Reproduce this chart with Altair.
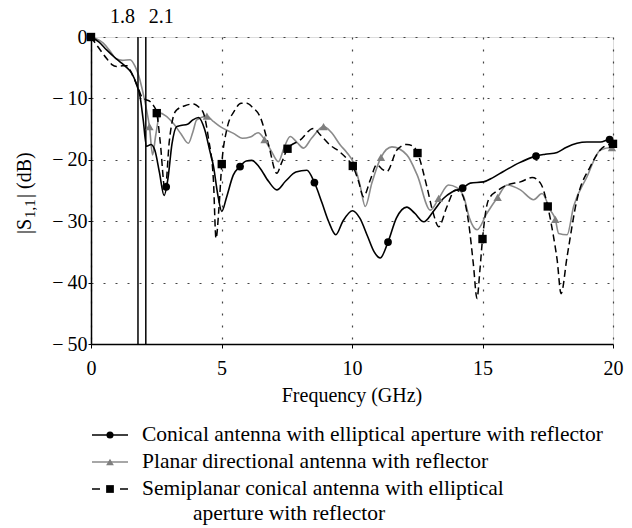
import altair as alt
import pandas as pd

# ---- data ----
conical_f = [0, 0.3, 0.6, 0.9, 1.1, 1.35, 1.56, 1.75, 1.88, 2.0, 2.13, 2.3, 2.45, 2.62, 2.8, 2.95, 3.1, 3.28,
             3.44, 3.7, 3.9, 4.12, 4.35, 4.55, 4.69, 4.85, 5.01, 5.2, 5.45, 5.71, 5.95, 6.16, 6.45, 6.8, 7.12,
             7.45, 7.85, 8.27, 8.56, 8.85, 9.1, 9.38, 9.65, 10.02, 10.3, 10.6, 10.85, 11.08, 11.38, 11.7, 12.1,
             12.4, 12.75, 13.1, 13.5, 13.85, 14.24, 14.53, 15.04, 15.4, 15.8, 16.4, 17.05, 17.4, 17.86, 18.2,
             18.62, 19.0, 19.52, 19.87, 20.0]
conical_db = [0, -0.8, -2.1, -3.3, -4.0, -4.9, -5.9, -7.8, -9.7, -13.5, -17.8, -17.5, -18.5, -22, -25.8, -23,
              -17.5, -14.6, -14.4, -14.2, -13.5, -13.1, -15, -18.5, -21, -25.5, -28.4, -26, -22.5, -21.1, -20.2,
              -20.1, -21.2, -23.5, -24.9, -23.5, -22, -21.7, -23.7, -27, -30, -32.2, -30, -28.3, -29.5, -32.5,
              -35, -36.0, -33.4, -29.5, -27.7, -28.7, -30.1, -28.5, -26.3, -25.2, -24.6, -23.8, -23.6, -22.9,
              -21.9, -20.5, -19.4, -19.1, -18.8, -18.0, -17.3, -17.1, -17.1, -16.7, -17.0]

planar_f = [0, 0.2, 0.47, 0.75, 0.98, 1.2, 1.5, 1.69, 1.82, 1.94, 2.04, 2.13, 2.24, 2.36, 2.48, 2.65, 2.85,
            3.16, 3.45, 3.73, 3.9, 4.05, 4.44, 4.7, 4.95, 5.46, 5.8, 6.1, 6.4, 6.65, 6.9, 7.18, 7.4, 7.63, 7.9,
            8.14, 8.45, 8.91, 9.2, 9.55, 9.8, 10.06, 10.3, 10.51, 10.76, 11.11, 11.53, 12.1, 12.5, 13.0, 13.32,
            13.7, 14.0, 14.28, 14.5, 14.79, 15.17, 15.58, 15.94, 16.45, 16.96, 17.28, 17.6, 17.79, 17.92, 18.24,
            18.49, 19.0, 19.52, 19.96, 20.0]
planar_db = [0, -0.3, -1.0, -2.4, -3.6, -3.8, -3.7, -4.8, -6.2, -8.1, -10, -11.9, -14.6, -19.2, -16, -12.4,
             -12.8, -14.1, -15.8, -17.3, -15.5, -13.5, -12.9, -13.8, -14.6, -15.7, -16.5, -16.3, -15.6, -16.7,
             -18.5, -20.3, -18, -16.2, -17.2, -18.1, -16.5, -14.6, -15.5, -17.6, -18.8, -20.5, -24, -27.6, -23.8,
             -19.6, -17.9, -19.2, -22.5, -28.2, -26.3, -24.1, -24.5, -26.0, -29.5, -31.4, -28.7, -26.1, -24.1,
             -24.9, -26.5, -25.5, -28.2, -29.7, -32.0, -32.2, -27.6, -22.8, -18.4, -18.0, -18.0]

semi_f = [0, 0.3, 0.6, 0.8, 0.98, 1.2, 1.37, 1.62, 1.8, 1.94, 2.1, 2.26, 2.4, 2.52, 2.65, 2.84, 3.0, 3.15,
          3.28, 3.6, 3.92, 4.15, 4.31, 4.5, 4.69, 4.79, 4.9, 5.01, 5.2, 5.5, 5.75, 5.97, 6.2, 6.48, 6.8, 7.12,
          7.3, 7.53, 8.01, 8.52, 8.8, 9.16, 9.5, 9.8, 10.03, 10.25, 10.44, 10.7, 10.95, 11.15, 11.34, 11.72,
          12.1, 12.35, 12.51, 12.87, 13.1, 13.32, 13.64, 13.96, 14.2, 14.47, 14.65, 14.79, 14.9, 15.0, 15.23,
          15.62, 15.94, 16.45, 16.9, 17.22, 17.5, 17.7, 17.86, 18.01, 18.24, 18.62, 19.13, 19.64, 20.0]
semi_db = [0, -1.8, -3.5, -4.5, -4.8, -4.7, -4.7, -6.5, -8.2, -9.7, -10.2, -10.5, -11.2, -12.4, -17, -25.0,
           -17, -13, -11.9, -11.2, -10.9, -11.5, -12.4, -16.5, -23.3, -32.8, -28, -20.7, -15.1, -12, -10.8,
           -10.8, -11.5, -13.0, -17.5, -22.2, -20.5, -18.2, -16.8, -14.9, -16, -17.6, -18.6, -19.8, -21.0,
           -23.5, -26.0, -23.3, -20.8, -21.5, -21.9, -18.4, -17.5, -17.8, -18.9, -24.4, -28.5, -30.9, -27.6,
           -24.9, -25.5, -30.3, -37, -42.6, -38, -32.9, -26.5, -24.9, -24.1, -23.6, -22.9, -23.8, -27.6, -32,
           -36.3, -41.8, -35.8, -26.5, -21.1, -17.9, -17.4]

conical_mk_f = [0, 2.88, 5.71, 8.56, 11.38, 14.24, 17.05, 19.87]
conical_mk_db = [0, -24.4, -21.1, -23.7, -33.4, -24.6, -19.4, -16.7]
planar_mk_f = [0, 2.24, 4.44, 6.65, 8.91, 11.11, 13.32, 15.58, 17.79, 19.96]
planar_mk_db = [0, -14.6, -12.9, -16.7, -14.6, -19.6, -26.3, -26.1, -29.7, -18.0]
semi_mk_f = [0, 2.52, 5.01, 7.53, 10.03, 12.51, 15.0, 17.5, 20.0]
semi_mk_db = [0, -12.4, -20.7, -18.2, -21.0, -18.9, -32.9, -27.6, -17.4]

band_f = [1.8, 2.1]
band_labels = ["1.8", "2.1"]
x_ticks = [0, 5, 10, 15, 20]
y_ticks = [-50, -40, -30, -20, -10, 0]

series_names = ["Conical antenna with elliptical aperture with reflector",
                "Planar directional antenna with reflector",
                "Semiplanar conical antenna with elliptical",
                "aperture with reflector"]
x_title = "Frequency (GHz)"

FONT = "Liberation Serif, Times New Roman, serif"
W, H = 522, 307
GRAY = "#8a8a8a"

xs = alt.Scale(domain=[0, 20], nice=False)
ys = alt.Scale(domain=[-50, 0], nice=False)
xaxis = alt.Axis(values=x_ticks, title=None, grid=True, gridDash=[2, 10], gridColor="#444",
                 gridWidth=1.2, tickSize=4, labelPadding=10, labelFont=FONT, labelFontSize=20,
                 labelColor="black", domainColor="black", domainWidth=1.5, tickColor="black",
                 labelFlush=False)
yaxis = alt.Axis(values=y_ticks, title=None, grid=True, gridDash=[2, 10], gridColor="#444",
                 gridWidth=1.2, tickSize=3, labelPadding=1, labelFont=FONT, labelFontSize=20,
                 labelColor="black", domainColor="black", domainWidth=1.5, tickColor="black",
                 labelFlush=False,
                 labelExpr="datum.value < 0 ? '\u2212\u2009' + format(-datum.value, 'd') : datum.label")


def enc_xy():
    return dict(x=alt.X("f:Q", scale=xs, axis=xaxis), y=alt.Y("db:Q", scale=ys, axis=yaxis))


df_con = pd.DataFrame({"f": conical_f, "db": conical_db})
df_pla = pd.DataFrame({"f": planar_f, "db": planar_db})
df_sem = pd.DataFrame({"f": semi_f, "db": semi_db})
mk_con = pd.DataFrame({"f": conical_mk_f, "db": conical_mk_db})
mk_pla = pd.DataFrame({"f": planar_mk_f, "db": planar_mk_db})
mk_sem = pd.DataFrame({"f": semi_mk_f, "db": semi_mk_db})
df_band = pd.DataFrame({"f": band_f, "label": band_labels})
one = pd.DataFrame({"k": [0]})

line_pla = alt.Chart(df_pla).mark_line(color=GRAY, strokeWidth=1.6, interpolate="monotone").encode(**enc_xy())
line_sem = alt.Chart(df_sem).mark_line(color="black", strokeWidth=1.5, strokeDash=[7, 4],
                                       interpolate="monotone").encode(**enc_xy())
line_con = alt.Chart(df_con).mark_line(color="black", strokeWidth=1.6, interpolate="monotone").encode(**enc_xy())

band_rules = alt.Chart(df_band).mark_rule(color="black", strokeWidth=1.5).encode(
    x=alt.X("f:Q", scale=xs, axis=xaxis), y=alt.value(0), y2=alt.value(H))
band_txt_l = alt.Chart(df_band.iloc[[0]]).mark_text(font=FONT, fontSize=20, align="right", baseline="middle",
                                                     dx=-3, color="black").encode(
    x=alt.X("f:Q", scale=xs, axis=xaxis), y=alt.value(-20), text="label:N")
band_txt_r = alt.Chart(df_band.iloc[[1]]).mark_text(font=FONT, fontSize=20, align="left", baseline="middle",
                                                     dx=3, color="black").encode(
    x=alt.X("f:Q", scale=xs, axis=xaxis), y=alt.value(-20), text="label:N")

pts_pla = alt.Chart(mk_pla).mark_point(shape="triangle-up", filled=True, color="#7f7f7f", size=70,
                                       opacity=1).encode(**enc_xy())
pts_con = alt.Chart(mk_con).mark_point(shape="circle", filled=True, color="black", size=60,
                                       opacity=1).encode(**enc_xy())
pts_sem = alt.Chart(mk_sem).mark_point(shape="square", filled=True, color="black", size=70,
                                       opacity=1).encode(**enc_xy())

# ---- axis titles as text marks ----
ytitle_main1 = alt.Chart(one).mark_text(font=FONT, fontSize=20, angle=270, align="left", baseline="middle",
                                        color="black").encode(x=alt.value(-66), y=alt.value(197), text=alt.value("|S"))
ytitle_sub = alt.Chart(one).mark_text(font=FONT, fontSize=15, angle=270, align="left", baseline="middle",
                                      color="black").encode(x=alt.value(-61), y=alt.value(181), text=alt.value("1,1"))
ytitle_main2 = alt.Chart(one).mark_text(font=FONT, fontSize=20, angle=270, align="left", baseline="middle",
                                        color="black").encode(x=alt.value(-66), y=alt.value(161), text=alt.value("| (dB)"))
xtitle = alt.Chart(one).mark_text(font=FONT, fontSize=20, align="center", baseline="middle",
                                  color="black").encode(x=alt.value(261), y=alt.value(359), text=alt.value(x_title))

# ---- legend (drawn manually) ----
rows_y = [398, 425, 452, 477]
LEG_FS = 21.5
leg = []
leg.append(alt.Chart(one).mark_rule(color="black", strokeWidth=1.6).encode(
    x=alt.value(1), x2=alt.value(37), y=alt.value(rows_y[0])))
leg.append(alt.Chart(one).mark_point(shape="circle", filled=True, color="black", size=50, opacity=1).encode(
    x=alt.value(19), y=alt.value(rows_y[0])))
leg.append(alt.Chart(one).mark_rule(color=GRAY, strokeWidth=1.6).encode(
    x=alt.value(1), x2=alt.value(37), y=alt.value(rows_y[1])))
leg.append(alt.Chart(one).mark_point(shape="triangle-up", filled=True, color="#7f7f7f", size=60, opacity=1).encode(
    x=alt.value(19), y=alt.value(rows_y[1])))
leg.append(alt.Chart(one).mark_rule(color="black", strokeWidth=1.5, strokeDash=[8, 20]).encode(
    x=alt.value(1), x2=alt.value(37), y=alt.value(rows_y[2])))
leg.append(alt.Chart(one).mark_point(shape="square", filled=True, color="black", size=60, opacity=1).encode(
    x=alt.value(19), y=alt.value(rows_y[2])))
for i, name in enumerate(series_names):
    xpos = 51 if i < 3 else 102
    leg.append(alt.Chart(one).mark_text(font=FONT, fontSize=LEG_FS, align="left", baseline="middle",
                                        color="black").encode(x=alt.value(xpos), y=alt.value(rows_y[i]),
                                                              text=alt.value(name)))

chart = alt.layer(
    line_pla, line_sem, line_con, band_rules, band_txt_l, band_txt_r,
    pts_pla, pts_con, pts_sem,
    ytitle_main1, ytitle_sub, ytitle_main2, xtitle, *leg
).properties(
    width=W, height=H,
    autosize=alt.AutoSizeParams(type="none"),
    padding={"left": 91, "top": 37, "right": 19, "bottom": 184},
).configure_view(stroke="#333", strokeWidth=1.5).configure(background="white")

chart.save("out.html", embed_options={"renderer": "svg", "actions": False})
